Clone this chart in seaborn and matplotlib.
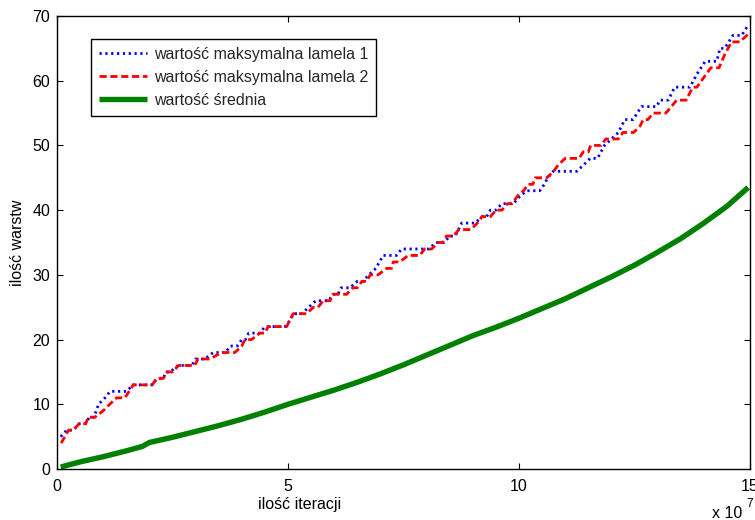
import matplotlib
matplotlib.use("Agg")
import matplotlib.pyplot as plt
import pandas as pd
import seaborn as sns

# iterations in units of 1e7, number of layers
x_lamela1 = [0.08, 0.21, 0.35, 0.48, 0.62, 0.70, 0.80, 0.90, 1.04, 1.15, 1.50, 1.65, 2.06, 2.17, 2.30,
             2.36, 2.45, 2.62, 2.92, 3.00, 3.20, 3.38, 3.65, 3.75, 3.90, 4.00, 4.08, 4.15, 4.39, 4.50,
             4.93, 5.05, 5.12, 5.30, 5.45, 5.60, 5.88, 5.97, 6.08, 6.15, 6.34, 6.50, 6.62, 6.75, 6.90,
             7.06, 7.35, 7.46, 8.05, 8.20, 8.38, 8.50, 8.62, 8.76, 9.05, 9.20, 9.30, 9.38, 9.50, 9.63,
             9.88, 10.00, 10.17, 10.45, 10.55, 10.62, 10.74, 11.25, 11.40, 11.54, 11.70, 11.85, 12.00,
             12.15, 12.29, 12.47, 12.65, 12.98, 13.05, 13.23, 13.37, 13.70, 13.85, 14.03, 14.28, 14.35,
             14.45, 14.63, 14.82, 14.96]
y_lamela1 = [5, 6, 6, 7, 7, 8, 8, 10, 11, 12, 12, 13, 13, 14, 14,
             15, 15, 16, 16, 17, 17, 18, 18, 19, 19, 20, 20, 21, 21, 22,
             22, 23, 24, 24, 25, 26, 26, 27, 27, 28, 28, 29, 29, 30, 31,
             33, 33, 34, 34, 35, 35, 36, 36, 38, 38, 39, 39, 40, 40, 41,
             41, 42, 43, 43, 44, 45, 46, 46, 47, 48, 48, 50, 51,
             52, 54, 54, 56, 56, 57, 57, 59, 59, 61, 63, 63, 65,
             65, 67, 67, 68.6]

x_lamela2 = [0.09, 0.25, 0.35, 0.48, 0.62, 0.68, 0.82, 1.00, 1.14, 1.29, 1.47, 1.65, 2.06, 2.16, 2.30,
             2.38, 2.50, 2.63, 2.98, 3.05, 3.31, 3.56, 3.85, 4.00, 4.07, 4.21, 4.39, 4.50, 4.57, 4.97,
             5.11, 5.40, 5.55, 5.65, 5.76, 5.91, 5.97, 6.27, 6.40, 6.50, 6.60, 6.70, 6.78, 6.95, 7.13,
             7.24, 7.28, 7.42, 7.60, 7.85, 7.96, 8.11, 8.25, 8.35, 8.43, 8.58, 8.70, 8.95, 9.10, 9.20,
             9.38, 9.50, 9.63, 9.75, 9.85, 10.00, 10.10, 10.20, 10.30, 10.35, 10.60, 10.75, 10.85, 11.00,
             11.30, 11.39, 11.50, 11.55, 11.78, 11.88, 12.15, 12.25, 12.48, 12.62, 12.69, 12.79, 12.91,
             13.18, 13.30, 13.41, 13.62, 13.76, 13.85, 14.00, 14.15, 14.33, 14.45, 14.60, 14.78, 14.96]
y_lamela2 = [4, 6, 6, 7, 7, 8, 8, 9, 10, 11, 11, 13, 13, 14, 14,
             15, 15, 16, 16, 17, 17, 18, 18, 19, 20, 20, 21, 21, 22, 22,
             24, 24, 25, 25, 26, 26, 27, 27, 28, 28, 29, 29, 30, 30, 31,
             31, 32, 32, 33, 33, 34, 34, 35, 35, 36, 36, 37, 37, 38, 39,
             39, 40, 40, 41, 41, 42.5, 43, 44, 44, 45, 45, 46, 47, 48,
             48, 49, 49, 50, 50, 51, 51, 52, 52, 53, 54, 54, 55,
             55, 56, 57, 57, 59, 59, 60.5, 62, 62, 64, 66, 66, 67.2]

x_srednia = [0.08, 0.5, 1.0, 1.5, 1.85, 2.0, 2.5, 3.0, 3.5, 4.0, 4.5, 5.0, 5.5, 6.0, 6.5, 7.0, 7.5,
             8.0, 8.5, 9.0, 9.5, 10.0, 10.5, 11.0, 11.5, 12.0, 12.5, 13.0, 13.5, 14.0, 14.5, 14.96]
y_srednia = [0.3, 1.1, 1.9, 2.8, 3.5, 4.1, 4.9, 5.8, 6.7, 7.7, 8.8, 10.0, 11.1, 12.2, 13.4, 14.7, 16.1,
             17.6, 19.1, 20.6, 21.9, 23.3, 24.8, 26.3, 28.0, 29.7, 31.5, 33.5, 35.6, 38.0, 40.6, 43.5]

labels = ["wartość maksymalna lamela 1", "wartość maksymalna lamela 2", "wartość średnia"]
x_ticks = [0, 5, 10, 15]
y_ticks = [0, 10, 20, 30, 40, 50, 60, 70]

sns.set_style("ticks")
plt.rcParams["font.family"] = ["Liberation Sans", "DejaVu Sans"]
FS = 11.5

fig = plt.figure(figsize=(7.55, 5.2), dpi=100)
fig.patch.set_facecolor("white")
ax = fig.add_axes([57 / 755, 51 / 520, 693 / 755, 453 / 520])

df1 = pd.DataFrame({"x": x_lamela1, "y": y_lamela1})
df2 = pd.DataFrame({"x": x_lamela2, "y": y_lamela2})
df3 = pd.DataFrame({"x": x_srednia, "y": y_srednia})

sns.lineplot(data=df1, x="x", y="y", ax=ax, sort=False, estimator=None, color=(0, 0, 1),
             lw=2.0, linestyle=(0, (0.8, 1.3)), label=labels[0])
sns.lineplot(data=df2, x="x", y="y", ax=ax, sort=False, estimator=None, color=(1, 0, 0),
             lw=2.0, linestyle=(0, (2.6, 1.3)), label=labels[1])
sns.lineplot(data=df3, x="x", y="y", ax=ax, sort=False, estimator=None, color=(0, 0.5, 0),
             lw=3.9, linestyle="-", solid_capstyle="butt", solid_joinstyle="round", label=labels[2])

ax.set_xlim(0, 15)
ax.set_ylim(0, 70)
ax.set_xticks(x_ticks)
ax.set_yticks(y_ticks)
ax.set_xticklabels([str(t) for t in x_ticks], fontsize=FS)
ax.set_yticklabels([str(t) for t in y_ticks], fontsize=FS)
ax.tick_params(direction="in", length=4, width=0.8, color="black",
               top=True, right=True, labelcolor="black")
ax.tick_params(axis="x", pad=7)
ax.tick_params(axis="y", pad=5)
for s in ax.spines.values():
    s.set_visible(True)
    s.set_color("black")
    s.set_linewidth(1.0)

ax.set_xlabel("ilość iteracji", fontsize=FS, color="black")
ax.set_ylabel("ilość warstw", fontsize=FS, color="black")
ax.xaxis.label.set_va("center")
ax.yaxis.label.set_va("center")
ax.xaxis.set_label_coords((300 - 57) / 693, (469 - 505) / 453)
ax.yaxis.set_label_coords((18 - 57) / 693, (469 - 243) / 453)

# exponent of the x axis
fig.text(712 / 755, 1 - 514 / 520, "x 10", fontsize=FS, ha="left", va="center", color="black")
fig.text(746 / 755, 1 - 504 / 520, "7", fontsize=FS * 0.75, ha="left", va="center", color="black")

leg = ax.legend(loc="upper left", bbox_to_anchor=((91 - 57) / 693, (469 - 39) / 453),
                borderaxespad=0, fontsize=FS, frameon=True, fancybox=False, shadow=False,
                handlelength=3.0, handletextpad=0.45, labelspacing=0.5, borderpad=0.5)
frame = leg.get_frame()
frame.set_edgecolor("black")
frame.set_linewidth(1.0)
frame.set_alpha(1)

fig.savefig("out.png", dpi=100, facecolor="white")
